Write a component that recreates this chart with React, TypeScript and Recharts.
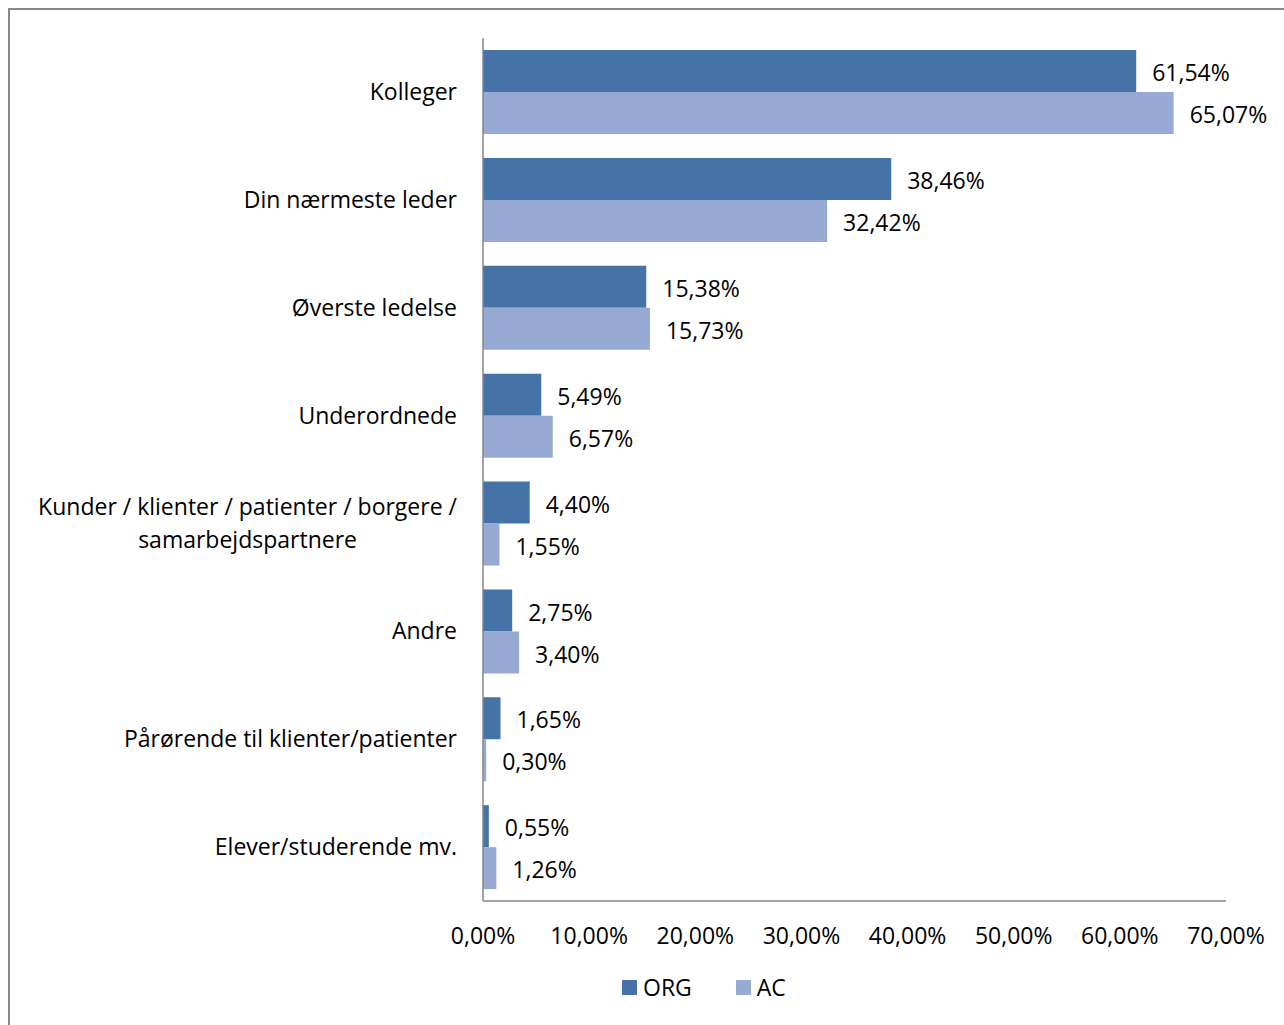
import React from "react";
import { BarChart, Bar, XAxis, YAxis, LabelList, Legend } from "recharts";

const categories = [
  "Kolleger",
  "Din nærmeste leder",
  "Øverste ledelse",
  "Underordnede",
  "Kunder / klienter / patienter / borgere / samarbejdspartnere",
  "Andre",
  "Pårørende til klienter/patienter",
  "Elever/studerende mv.",
];
const orgValues = [0.6154, 0.3846, 0.1538, 0.0549, 0.044, 0.0275, 0.0165, 0.0055];
const acValues = [0.6507, 0.3242, 0.1573, 0.0657, 0.0155, 0.034, 0.003, 0.0126];
const xTicks = [0, 0.1, 0.2, 0.3, 0.4, 0.5, 0.6, 0.7];

const FONT = "'Open Sans', 'Noto Sans', sans-serif";
const FONT_SIZE = 23;
const ORG_COLOR = "#4572a7";
const AC_COLOR = "#96aad3";
const AXIS_COLOR = "#868686";

const data = categories.map((name, i) => ({ name, org: orgValues[i], ac: acValues[i] }));

const pct = (v: number) => (v * 100).toFixed(2).replace(".", ",") + "%";

let ctx: CanvasRenderingContext2D | null = null;
function textWidth(t: string) {
  if (!ctx) {
    ctx = document.createElement("canvas").getContext("2d");
  }
  if (!ctx) return t.length * FONT_SIZE * 0.5;
  ctx.font = `${FONT_SIZE}px 'Open Sans'`;
  return ctx.measureText(t).width;
}

function wrap(label: string, maxWidth: number) {
  const words = label.split(" ");
  const lines: string[] = [];
  let cur = "";
  for (const w of words) {
    const next = cur ? cur + " " + w : w;
    if (cur && textWidth(next) > maxWidth) {
      lines.push(cur);
      cur = w;
    } else {
      cur = next;
    }
  }
  if (cur) lines.push(cur);
  return lines;
}

function CategoryTick(props: any) {
  const { x, y, payload } = props;
  const lines = wrap(String(payload.value), 445);
  const lineH = 33;
  if (lines.length === 1) {
    return (
      <text x={x} y={y} dy="0.35em" textAnchor="end" fill="#000" fontSize={FONT_SIZE}>
        {lines[0]}
      </text>
    );
  }
  const widest = Math.max(...lines.map(textWidth));
  const cx = x - widest / 2;
  const startY = y - ((lines.length - 1) * lineH) / 2;
  return (
    <text x={cx} y={startY} textAnchor="middle" fill="#000" fontSize={FONT_SIZE}>
      {lines.map((l, i) => (
        <tspan key={i} x={cx} y={startY + i * lineH} dy="0.35em">
          {l}
        </tspan>
      ))}
    </text>
  );
}

function LegendContent() {
  const items = [
    { label: "ORG", color: ORG_COLOR },
    { label: "AC", color: AC_COLOR },
  ];
  return (
    <div style={{ display: "flex", alignItems: "center", fontFamily: FONT, fontSize: FONT_SIZE }}>
      {items.map((it) => (
        <div key={it.label} style={{ display: "flex", alignItems: "center", marginRight: 44 }}>
          <span style={{ width: 15, height: 15, background: it.color, display: "inline-block", marginRight: 6 }} />
          <span style={{ color: "#000" }}>{it.label}</span>
        </div>
      ))}
    </div>
  );
}

export default function App() {
  return (
    <div
      style={{
        position: "absolute",
        left: 0,
        top: 0,
        width: 1284,
        height: 1025,
        overflow: "hidden",
        background: "#fff",
        fontFamily: FONT,
      }}
    >
      <div
        style={{
          position: "absolute",
          left: 8,
          top: 8,
          width: 1300,
          height: 1100,
          borderLeft: `2px solid ${AXIS_COLOR}`,
          borderTop: `2px solid ${AXIS_COLOR}`,
        }}
      />
      <div style={{ position: "absolute", left: 0, top: 0 }}>
        <BarChart
          width={1284}
          height={1025}
          data={data}
          layout="vertical"
          margin={{ top: 38, right: 58, bottom: 64, left: 0 }}
          barCategoryGap={12}
          barGap={0}
        >
          <XAxis
            type="number"
            domain={[0, 0.7]}
            ticks={xTicks}
            tickFormatter={pct}
            tickLine={false}
            tickSize={0}
            tickMargin={27}
            height={60}
            axisLine={{ stroke: AXIS_COLOR, strokeWidth: 1.5 }}
            tick={{ fill: "#000", fontSize: FONT_SIZE }}
            interval={0}
          />
          <YAxis
            type="category"
            dataKey="name"
            width={483}
            tickLine={false}
            tickSize={0}
            tickMargin={26}
            axisLine={{ stroke: AXIS_COLOR, strokeWidth: 1.5 }}
            tick={<CategoryTick />}
            interval={0}
          />
          <Legend
            layout="horizontal"
            verticalAlign="middle"
            align="center"
            wrapperStyle={{ top: 971, left: 622, width: 300 }}
            content={<LegendContent />}
          />
          <Bar dataKey="org" name="ORG" fill={ORG_COLOR} isAnimationActive={false}>
            <LabelList
              dataKey="org"
              position="right"
              offset={16}
              dy={2}
              formatter={(v: any) => pct(Number(v))}
              style={{ fill: "#000", fontSize: FONT_SIZE }}
            />
          </Bar>
          <Bar dataKey="ac" name="AC" fill={AC_COLOR} isAnimationActive={false}>
            <LabelList
              dataKey="ac"
              position="right"
              offset={16}
              dy={2}
              formatter={(v: any) => pct(Number(v))}
              style={{ fill: "#000", fontSize: FONT_SIZE }}
            />
          </Bar>
        </BarChart>
      </div>
    </div>
  );
}
